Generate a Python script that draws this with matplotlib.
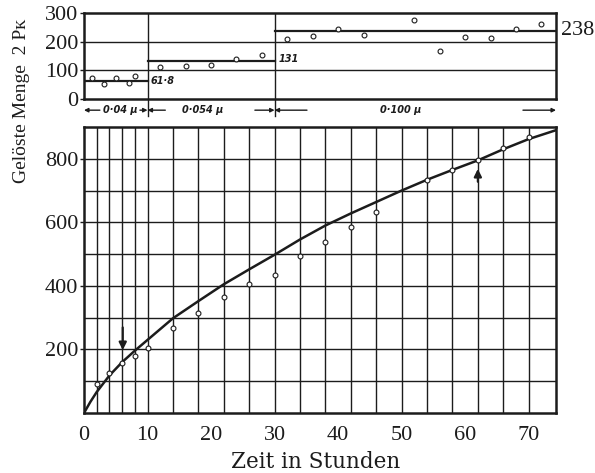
import numpy as np
import matplotlib.pyplot as plt
import matplotlib.transforms as mtransforms

# Gelöste Menge (untere Kurve)
kurve_zeit = [0, 1, 2, 4, 6, 8, 10, 14, 18, 22, 26, 30, 34, 38, 42, 46, 50, 54, 58, 62, 66, 70, 74.3]
kurve_menge = [0, 35, 66, 118, 160, 196, 230, 298, 352, 405, 452, 498, 546, 590, 628, 664, 700, 734, 765, 795, 830, 862, 890]

mess_zeit = [2, 4, 6, 8, 10, 14, 18, 22, 26, 30, 34, 38, 42, 46, 54, 58, 62, 66, 70]
mess_menge = [90, 127, 157, 178, 204, 266, 316, 366, 406, 435, 495, 539, 584, 634, 734, 764, 795, 835, 867]

# Geschwindigkeit 2 P_K (oberes Feld)
pk_zeit = [1.2, 3.2, 5.1, 7.1, 8.1, 12, 16, 20, 24, 28, 32, 36, 40, 44, 52, 56, 60, 64, 68, 72]
pk_wert = [73, 52, 75, 55, 80, 111, 115, 120, 140, 154, 209, 220, 245, 225, 274, 168, 218, 212, 243, 261]

# Mittelwerte je Korngrösse
stufen_start = [0, 10, 30]
stufen_ende = [10, 30, 74.3]
stufen_mittel = [61.8, 131, 238]
stufen_text = ['0·04 μ', '0·054 μ', '0·100 μ']

schwarz = '#1c1c1c'
ziffer_font = 'Liberation Serif'

fig = plt.figure(figsize=(5.95, 4.73), dpi=100)
ax_bot = fig.add_axes([84/595, 60/473, 472/595, 286/473])
ax_top = fig.add_axes([84/595, 374/473, 472/595, 86/473])

# --- unteres Feld ---
ax_bot.set_xlim(0, 74.3)
ax_bot.set_ylim(0, 900)
for x in list(range(2, 10, 2)) + list(range(10, 74, 4)):
    ax_bot.axvline(x, color=schwarz, lw=1.0, zorder=1)
for y in range(100, 900, 100):
    ax_bot.axhline(y, color=schwarz, lw=1.0, zorder=1)

ax_bot.plot(kurve_zeit, kurve_menge, color=schwarz, lw=1.8, zorder=3)
ax_bot.plot(mess_zeit, mess_menge, 'o', ms=3.5, mfc='white', mec=schwarz, mew=0.8, zorder=4)

ax_bot.annotate('', xy=(6.1, 189), xytext=(6.1, 278),
                arrowprops=dict(arrowstyle='-|>', color=schwarz, lw=1.6, mutation_scale=11))
ax_bot.annotate('', xy=(62, 777), xytext=(62, 719),
                arrowprops=dict(arrowstyle='-|>', color=schwarz, lw=1.6, mutation_scale=11))

ax_bot.set_xticks(range(0, 80, 10))
ax_bot.set_yticks([200, 400, 600, 800])
ax_bot.tick_params(axis='x', length=0, pad=9)
ax_bot.tick_params(axis='y', length=3, width=1, pad=1, color=schwarz)
for lab in ax_bot.get_xticklabels() + ax_bot.get_yticklabels():
    lab.set_fontfamily(ziffer_font)
    lab.set_fontsize(16)
    lab.set_color(schwarz)

# --- oberes Feld ---
ax_top.set_xlim(0, 74.3)
ax_top.set_ylim(0, 300)
for y in [100, 200]:
    ax_top.axhline(y, color=schwarz, lw=1.0, zorder=1)
for x in [10, 30]:
    ax_top.axvline(x, color=schwarz, lw=1.0, zorder=1)
    ax_top.plot([x, x], [0, -0.2], transform=mtransforms.blended_transform_factory(ax_top.transData, ax_top.transAxes),
                color=schwarz, lw=1.0, clip_on=False)
for a, b, m in zip(stufen_start, stufen_ende, stufen_mittel):
    ax_top.plot([a, b], [m, m], color=schwarz, lw=1.6, zorder=2)
ax_top.plot(pk_zeit, pk_wert, 'o', ms=3.5, mfc='white', mec=schwarz, mew=0.8, zorder=4)

ax_top.text(10.4, 61.8, '61·8', fontsize=7, fontweight='bold', fontstyle='italic', va='center', ha='left', color=schwarz)
ax_top.text(30.6, 140, '131', fontsize=7, fontweight='bold', fontstyle='italic', va='center', ha='left', color=schwarz)
ax_top.text(1.01, 238, '238', transform=mtransforms.blended_transform_factory(ax_top.transAxes, ax_top.transData),
            fontsize=16, family=ziffer_font, va='center', ha='left', color=schwarz)

# Korngrössen unter dem oberen Feld
trans = mtransforms.blended_transform_factory(ax_top.transData, ax_top.transAxes)
text_x = [5.7, 18.7, 49.8]
pfeile = [(2.5, 0), (8.8, 10), (12.8, 10), (26.9, 30), (35.1, 30), (69.1, 74.3)]
for tx, t in zip(text_x, stufen_text):
    ax_top.text(tx, -0.13, t, transform=trans, fontsize=7, fontweight='bold', fontstyle='italic',
                ha='center', va='center', color=schwarz)
for start, ziel in pfeile:
    ax_top.annotate('', xy=(ziel, -0.13), xytext=(start, -0.13), xycoords=trans, textcoords=trans,
                    arrowprops=dict(arrowstyle='-|>', color=schwarz, lw=1.0, mutation_scale=6,
                                    shrinkA=0, shrinkB=0), annotation_clip=False)

ax_top.set_xticks([])
ax_top.set_yticks([0, 100, 200, 300])
ax_top.tick_params(axis='y', length=3, width=1, pad=1, color=schwarz)
for lab in ax_top.get_yticklabels():
    lab.set_fontfamily(ziffer_font)
    lab.set_fontsize(16)
    lab.set_color(schwarz)

for ax in [ax_bot, ax_top]:
    for s in ax.spines.values():
        s.set_linewidth(1.8)
        s.set_color(schwarz)

fig.text(316/595, 11/473, 'Zeit in Stunden', fontsize=15.5, family='DejaVu Serif',
         ha='center', va='center', color=schwarz)
fig.text(22/595, (473 - 101)/473, 'Gelöste Menge  2 Pᴋ', fontsize=14, family=[ziffer_font, 'DejaVu Serif', 'DejaVu Sans'],
         rotation=90, ha='center', va='center', color=schwarz)

fig.savefig('out.png', dpi=100, facecolor='white')
